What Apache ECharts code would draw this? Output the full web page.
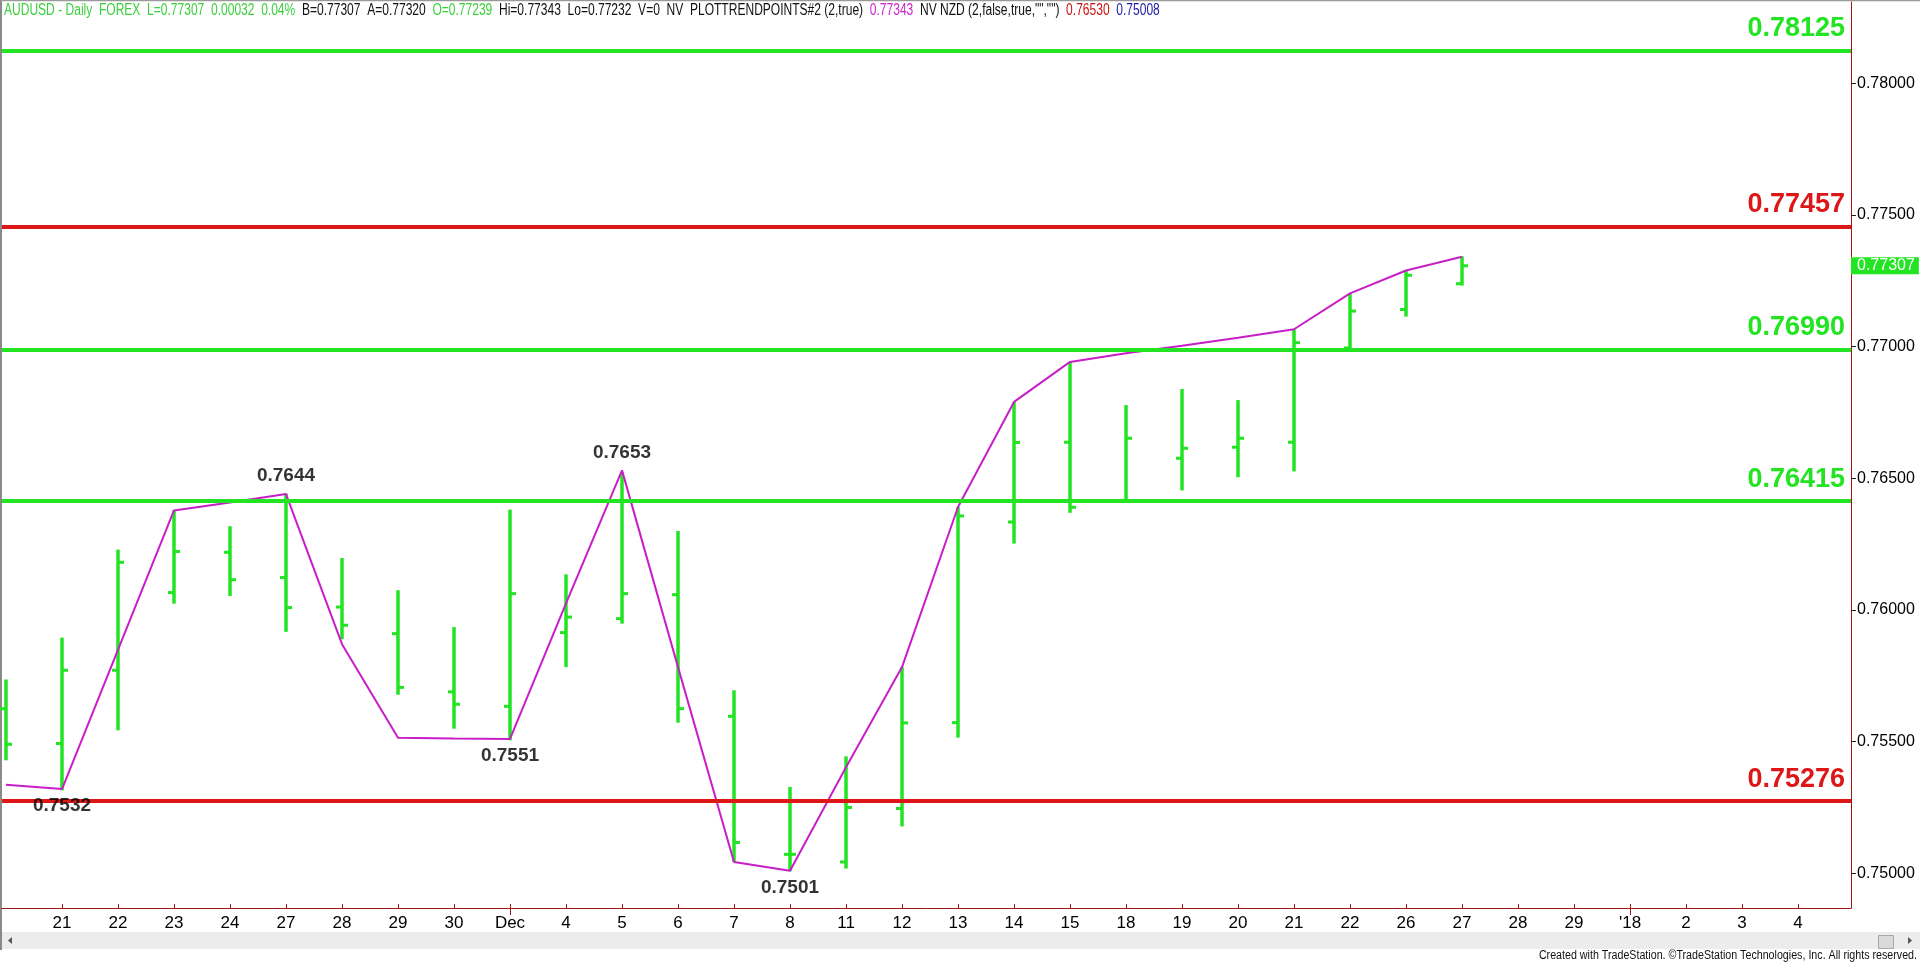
<!DOCTYPE html>
<html><head><meta charset="utf-8">
<script src="https://cdn.jsdelivr.net/npm/echarts@6/dist/echarts.min.js"></script>
<style>html,body{margin:0;padding:0;background:#fff}#c{width:1920px;height:964px}</style>
</head><body><div id="c"></div><script>
// ---- data ----
const dateLabels = ['20','21','22','23','24','27','28','29','30','Dec','4','5','6','7','8','11','12','13','14','15','18','19','20','21','22','26','27','28','29',"'18",'2','3','4'];
const opens  = [0.75625,0.75493,0.75771,0.76066,0.76219,0.76123,0.76011,0.75910,0.75689,0.75634,0.75914,0.75967,0.76058,0.75596,0.75072,0.75043,0.75246,0.75572,0.76334,0.76637,0.76416,0.76576,0.76618,0.76637,0.76995,0.77141,0.77239];
const highs  = [0.75736,0.75895,0.76229,0.76378,0.76318,0.76442,0.76197,0.76075,0.75935,0.76381,0.76135,0.76524,0.76300,0.75695,0.75328,0.75444,0.75783,0.76391,0.76790,0.76942,0.76778,0.76839,0.76797,0.77066,0.77202,0.77289,0.77343];
const lows   = [0.75429,0.75315,0.75543,0.76024,0.76053,0.75917,0.75889,0.75678,0.75549,0.75505,0.75783,0.75948,0.75572,0.75043,0.75008,0.75018,0.75178,0.75515,0.76252,0.76369,0.76407,0.76454,0.76504,0.76526,0.76990,0.77114,0.77232];
const closes = [0.75490,0.75771,0.76181,0.76222,0.76115,0.76009,0.75942,0.75706,0.75642,0.76062,0.75973,0.76062,0.75625,0.75117,0.75072,0.75250,0.75571,0.76357,0.76636,0.76390,0.76652,0.76614,0.76652,0.77015,0.77135,0.77271,0.77307];
const trendIdx  = [0,1,3,4,5,6,7,8,9,10,11,12,13,14,15,16,17,18,19,20,21,22,23,24,25,26];
const trendVals = [0.75336,0.75320,0.76378,0.76408,0.76440,0.75870,0.75515,0.75512,0.75510,0.76025,0.76530,0.75783,0.75043,0.75010,0.75403,0.75783,0.76391,0.76790,0.76942,0.76975,0.77003,0.77034,0.77066,0.77202,0.77289,0.77341];
const swingHighIdx = [5,11];
const swingHighVals = [0.7644,0.7653];
const swingLowIdx = [1,9,14];
const swingLowVals = [0.7532,0.7551,0.7501];
const greenLevels = [0.78125,0.76990,0.76415];
const redLevels = [0.77457,0.75276];
const lastPrice = 0.77307;
const yTicks = [0.750,0.755,0.760,0.765,0.770,0.775,0.780];
const xLabelIdx = [1,2,3,4,5,6,7,8,9,10,11,12,13,14,15,16,17,18,19,20,21,22,23,24,25,26,27,28,29,30,31,32];
const majorTickIdx = [9,29];

// ---- styling ----
const GREEN = '#22e422', RED = '#dd1717', AXIS = '#a31515', MAG = '#c81ec8';
const SANS = '"Liberation Sans",Arial,sans-serif';

const ohlc = opens.map((o,i)=>[i,o,highs[i],lows[i],closes[i]]);
const trend = trendIdx.map((x,i)=>[x,trendVals[i]]);

const levelLines = [];
greenLevels.forEach(v=>levelLines.push({yAxis:v,lineStyle:{color:GREEN,width:4,type:'solid'},label:{formatter:v.toFixed(5),color:GREEN}}));
redLevels.forEach(v=>levelLines.push({yAxis:v,lineStyle:{color:RED,width:4,type:'solid'},label:{formatter:v.toFixed(5),color:RED}}));
levelLines.push({yAxis:lastPrice,lineStyle:{color:'rgba(0,0,0,0)',width:1},
  label:{position:'end',formatter:lastPrice.toFixed(5),color:'#fff',backgroundColor:GREEN,fontSize:16,fontWeight:'normal',
  fontFamily:SANS,padding:[1,4,0,6],distance:0}});

const HS = 16;
const chart = echarts.init(document.getElementById('c'),null,{renderer:'canvas'});
chart.setOption({
  animation:false,
  backgroundColor:'#fff',
  grid:{left:2,right:69,top:2,bottom:56,containLabel:false},
  xAxis:[{
    type:'value', min:-0.0714, max:32.946,
    axisLine:{show:true,onZero:false,lineStyle:{color:AXIS,width:1}},
    axisTick:{show:true,inside:true,length:4,customValues:xLabelIdx,lineStyle:{color:AXIS}},
    axisLabel:{show:true,customValues:xLabelIdx,formatter:v=>dateLabels[Math.round(v)],
      fontSize:17,fontFamily:SANS,color:'#000',margin:7},
    splitLine:{show:false}
  },{
    type:'value', min:-0.0714, max:32.946, position:'bottom',
    axisLine:{show:false,onZero:false},
    axisTick:{show:true,inside:false,length:7,customValues:majorTickIdx,lineStyle:{color:AXIS}},
    axisLabel:{show:false}, splitLine:{show:false}
  }],
  yAxis:{
    type:'value', position:'right', min:0.748682, max:0.783087,
    axisLine:{show:true,onZero:false,lineStyle:{color:AXIS,width:1}},
    axisTick:{show:true,length:5,customValues:yTicks,lineStyle:{color:'#222'}},
    axisLabel:{show:true,customValues:yTicks,formatter:v=>v.toFixed(5),fontSize:16,fontFamily:SANS,color:'#000',margin:6},
    splitLine:{show:false}
  },
  series:[
    {
      type:'custom', name:'AUDUSD', z:2, data:ohlc,
      encode:{x:0,y:[1,2,3,4]},
      renderItem:function(params,api){
        const x=api.value(0);
        const o=api.coord([x,api.value(1)]);
        const h=api.coord([x,api.value(2)]);
        const l=api.coord([x,api.value(3)]);
        const c=api.coord([x,api.value(4)]);
        return {type:'group',children:[
          {type:'line',shape:{x1:h[0],y1:h[1],x2:l[0],y2:l[1]},style:{stroke:GREEN,lineWidth:3.5}},
          {type:'line',shape:{x1:o[0]-6,y1:o[1],x2:o[0],y2:o[1]},style:{stroke:GREEN,lineWidth:3}},
          {type:'line',shape:{x1:c[0],y1:c[1],x2:c[0]+6,y2:c[1]},style:{stroke:GREEN,lineWidth:3}}
        ]};
      }
    },
    {
      type:'line', name:'trend', z:3, data:trend, symbol:'none',
      lineStyle:{color:MAG,width:2}, itemStyle:{color:MAG}
    },
    {
      type:'scatter', z:6, data:swingHighIdx.map((x,i)=>[x,swingHighVals[i]]),
      symbolSize:1, itemStyle:{color:'rgba(0,0,0,0)'},
      label:{show:true,position:'top',distance:8,formatter:p=>p.value[1].toFixed(4),
        fontSize:19,fontWeight:'bold',fontFamily:SANS,color:'#000'}
    },
    {
      type:'scatter', z:6, data:swingLowIdx.map((x,i)=>[x,swingLowVals[i]]),
      symbolSize:1, itemStyle:{color:'rgba(0,0,0,0)'},
      label:{show:true,position:'bottom',distance:7,formatter:p=>p.value[1].toFixed(4),
        fontSize:19,fontWeight:'bold',fontFamily:SANS,color:'#000'}
    },
    {
      type:'line', name:'levels', z:5, data:[], silent:true,
      markLine:{
        symbol:['none','none'], silent:true, animation:false, precision:5,
        label:{show:true,position:'insideEndTop',fontSize:27,fontWeight:'bold',fontFamily:SANS,distance:[6,8]},
        data:levelLines
      }
    }
  ],
  graphic:[
    {type:'rect',left:2,top:932,shape:{width:1918,height:17},style:{fill:'#ececec'},silent:true,z:0},
    {type:'rect',left:1878,top:935,shape:{width:15,height:13},style:{fill:'#dadada',stroke:'#a8a8a8',lineWidth:1},silent:true,z:1},
    {type:'polygon',shape:{points:[[12,937],[12,944],[8,940.5]]},style:{fill:'#555'},silent:true},
    {type:'polygon',shape:{points:[[1908,937],[1908,944],[1912,940.5]]},style:{fill:'#555'},silent:true},
    {type:'line',shape:{x1:1,y1:0,x2:1,y2:950},style:{stroke:'#8a8a8a',lineWidth:2},silent:true},
    {type:'line',shape:{x1:0,y1:0.5,x2:1920,y2:0.5},style:{stroke:'#9a9a9a',lineWidth:1.5},silent:true},
    {type:'text',x:4,y:3,scaleX:0.752,z:10,silent:true,style:{
      text:'{g|AUDUSD - Daily  FOREX  L=0.77307  0.00032  0.04%}  {k|B=0.77307  A=0.77320}  {g|O=0.77239}  {k|Hi=0.77343  Lo=0.77232  V=0  NV  PLOTTRENDPOINTS#2 (2,true)}  {m|0.77343}  {k|NV NZD (2,false,true,"","")}  {r|0.76530}  {b|0.75008}',
      fontSize:HS,fontFamily:SANS,fill:'#111',
      rich:{
        g:{fill:'#3ccf3c',fontSize:HS,fontFamily:SANS},
        k:{fill:'#111',fontSize:HS,fontFamily:SANS},
        m:{fill:'#cc22cc',fontSize:HS,fontFamily:SANS},
        r:{fill:'#cc1111',fontSize:HS,fontFamily:SANS},
        b:{fill:'#1a1aaa',fontSize:HS,fontFamily:SANS}
      }}},
    {type:'text',x:1917,y:950,scaleX:0.89,silent:true,style:{text:'Created with TradeStation. \u00A9TradeStation Technologies, Inc. All rights reserved.',
      fontSize:12,fontFamily:SANS,fill:'#111',align:'right'}}
  ]
});
</script></body></html>
